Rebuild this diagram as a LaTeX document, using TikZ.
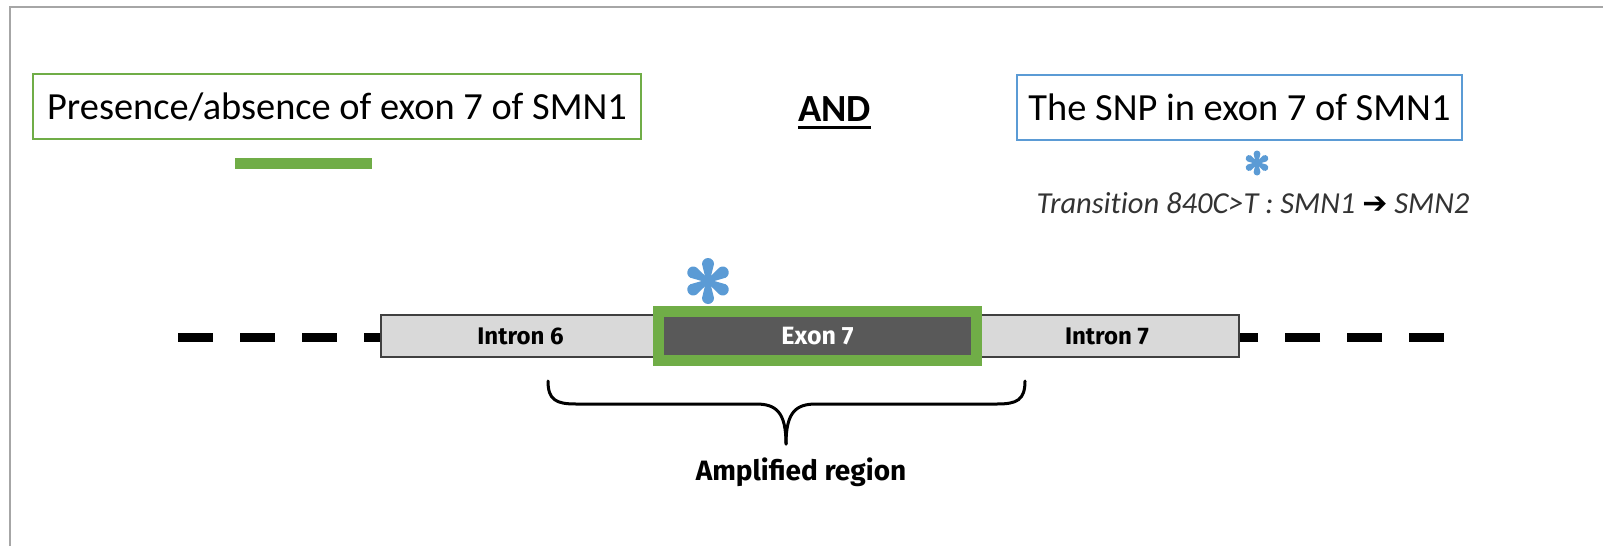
\documentclass[tikz,border=0pt]{standalone}
\usepackage{fontspec}
\setmainfont{Carlito}
\newfontfamily\transfont{Carlito}[Ligatures=NoCommon]
\newfontfamily\genefont{Fira Sans}
\newfontfamily\arrowfnt{DejaVu Sans}
\usetikzlibrary{calc}
\definecolor{exgreen}{HTML}{70AD47}
\definecolor{snpblue}{HTML}{5B9BD5}
\definecolor{exdark}{HTML}{595959}
\definecolor{infill}{HTML}{D9D9D9}
\definecolor{inedge}{HTML}{404040}
\definecolor{framegray}{HTML}{A6A6A6}
\definecolor{ittext}{HTML}{333333}
\begin{document}
\begin{tikzpicture}[x=1pt,y=-1pt,
  titlebox/.style={draw=#1, line width=2pt, inner sep=0pt, minimum height=65pt,
    font=\fontsize{38.4}{44}\selectfont},
  intronbox/.style={draw=inedge, fill=infill, line width=1.5pt, inner sep=0pt,
    minimum height=42pt, font=\genefont\bfseries\fontsize{24}{28}\selectfont},
  exonbox/.style={draw=exgreen, fill=exdark, line width=11pt, inner sep=0pt,
    minimum width=318pt, minimum height=49pt, text=white,
    font=\genefont\bfseries\fontsize{25}{28}\selectfont},
  dnadash/.style={line width=9pt, dash pattern=on 35pt off 27pt},
  bracestyle/.style={line width=3pt, line cap=round},
  pics/asterisk/.style n args={3}{code={
    \foreach \a in {90,30,-30,-90,-150,150}{
      \fill[snpblue, rotate=\a] (0,-#3) -- (#1-#2,-#2) arc(-90:90:#2) -- (0,#3) -- cycle;}
  }}
]
\useasboundingbox (0,0) rectangle (1603,546);
% frame
\draw[framegray, line width=2pt] (10,546) -- (10,7) -- (1603,7);

% top row
\node[titlebox=exgreen, minimum width=608pt] (pres) at (337,106.5) {Presence/absence of exon 7 of SMN1};
\node[inner sep=0pt, font=\bfseries\fontsize{38.4}{44}\selectfont, anchor=base] (and) at (834.5,121) {AND};
\draw[line width=3pt] ([yshift=-6pt]and.base west) -- ([yshift=-6pt]and.base east);
\node[titlebox=snpblue, minimum width=445pt] (snp) at (1239.5,107.5) {The SNP in exon 7 of SMN1};

\node[fill=exgreen, inner sep=0pt, minimum width=137pt, minimum height=11pt] (bar) at (303.5,163.5) {};

\pic (smallast) at (1257,163) {asterisk={12.5}{3.4}{1.2}};
\node[anchor=base, inner sep=0pt, text=ittext, font=\transfont\itshape\fontsize{30.5}{34}\selectfont] (trans) at (1253,213)
  {Transition 840C>T : SMN1 {\arrowfnt\bfseries\color{black}\fontsize{30}{34}\selectfont ➔} SMN2};

% gene line
\node[intronbox, minimum width=279pt] (in6) at (520.5,336) {Intron 6};
\node[intronbox, minimum width=264pt] (in7) at (1107,336) {Intron 7};
\node[exonbox] (ex7) at (817.5,336) {Exon 7};

\coordinate (lend) at (178,337.5);
\coordinate (rend) at (1444,337.5);
\draw[dnadash] (lend) -- (in6.west |- lend);
\draw[dnadash] (rend) -- (in7.east |- rend);

\pic (bigast) at (708,281) {asterisk={23}{6}{1.8}};

% brace
\coordinate (bl) at (548,381);
\coordinate (br) at (1025,381);
\coordinate (bt) at (786,444);
\draw[bracestyle] (bl) .. controls (548,400) and (556,404) .. (576,404) -- (756,404)
  .. controls (776,404) and (786,412) .. (bt);
\draw[bracestyle] (br) .. controls (1025,400) and (1017,404) .. (997,404) -- (816,404)
  .. controls (796,404) and (786,412) .. (bt);
\node[inner sep=0pt, font=\genefont\bfseries\fontsize{28}{32}\selectfont] (amp) at (801,472) {Amplified region};
\end{tikzpicture}
\end{document}
